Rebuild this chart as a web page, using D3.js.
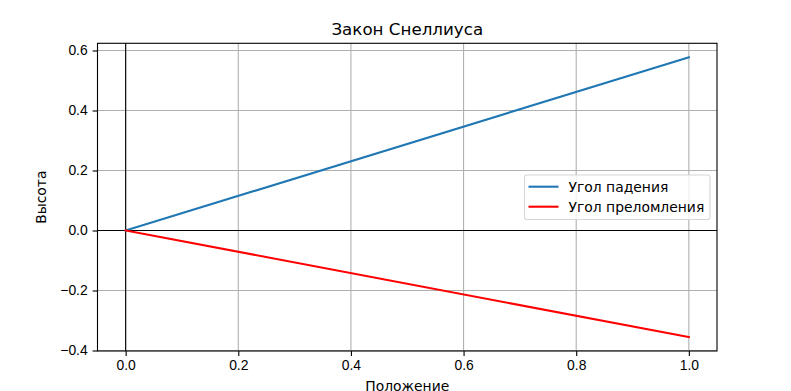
<!DOCTYPE html>
<html>
<head>
<meta charset="utf-8">
<script src="https://cdn.jsdelivr.net/npm/d3@7"></script>
<style>
  body { margin: 0; background: #fff; }
  svg { font-family: "DejaVu Sans", sans-serif; }
  .tick text { font-size: 13.9px; fill: #000; }
</style>
</head>
<body>
<svg id="chart" width="791" height="391"></svg>
<script>
// data
var position = [0, 1];
var incidence = [0, 0.5774];
var refraction = [0, -0.355];
var xTicks = [0, 0.2, 0.4, 0.6, 0.8, 1.0];
var yTicks = [-0.4, -0.2, 0, 0.2, 0.4, 0.6];
var seriesNames = ["Угол падения", "Угол преломления"];
var seriesColors = ["#1f77b4", "red"];

// plot area (window.top is reserved, so no "top" here)
var axLeft = 97.5, axRight = 717, axTop = 43.3, axBottom = 351;

var svg = d3.select("#chart");

var x = d3.scaleLinear().domain([-0.05, 1.05]).range([axLeft, axRight]);
var y = d3.scaleLinear().domain([-0.4016, 0.6240]).range([axBottom, axTop]);

// grid
svg.append("g")
    .selectAll("line")
    .data(xTicks)
  .enter().append("line")
    .attr("x1", function(d) { return x(d); })
    .attr("x2", function(d) { return x(d); })
    .attr("y1", axTop).attr("y2", axBottom)
    .attr("stroke", "#b0b0b0").attr("stroke-width", 1.1);

svg.append("g")
    .selectAll("line")
    .data(yTicks)
  .enter().append("line")
    .attr("y1", function(d) { return y(d); })
    .attr("y2", function(d) { return y(d); })
    .attr("x1", axLeft).attr("x2", axRight)
    .attr("stroke", "#b0b0b0").attr("stroke-width", 1.1);

// zero lines
svg.append("line")
    .attr("x1", axLeft).attr("x2", axRight)
    .attr("y1", y(0)).attr("y2", y(0))
    .attr("stroke", "#000").attr("stroke-width", 1.1);
svg.append("line")
    .attr("x1", x(0)).attr("x2", x(0))
    .attr("y1", axTop).attr("y2", axBottom)
    .attr("stroke", "#000").attr("stroke-width", 1.1);

// series
var line = d3.line()
    .x(function(d, i) { return x(position[i]); })
    .y(function(d) { return y(d); });

svg.selectAll("path.series")
    .data([incidence, refraction])
  .enter().append("path")
    .attr("class", "series")
    .attr("d", line)
    .attr("fill", "none")
    .attr("stroke", function(d, i) { return seriesColors[i]; })
    .attr("stroke-width", 2.1)
    .attr("stroke-linecap", "square");

// axes
var fmt = function(d) { return d3.format(".1f")(d).replace("-", "\u2212"); };

svg.append("g")
    .attr("transform", "translate(0," + axBottom + ")")
    .call(d3.axisBottom(x).tickValues(xTicks).tickFormat(fmt).tickSize(4.9).tickPadding(4.5))
    .call(function(g) { g.select(".domain").remove(); })
    .selectAll("line").attr("stroke-width", 1.1);

svg.append("g")
    .attr("transform", "translate(" + axLeft + ",0)")
    .call(d3.axisLeft(y).tickValues(yTicks).tickFormat(fmt).tickSize(4.9).tickPadding(4.9))
    .call(function(g) { g.select(".domain").remove(); })
    .selectAll("line").attr("stroke-width", 1.1);

// frame
svg.append("rect")
    .attr("x", axLeft).attr("y", axTop)
    .attr("width", axRight - axLeft).attr("height", axBottom - axTop)
    .attr("fill", "none").attr("stroke", "#000").attr("stroke-width", 1.1);

// title and labels
svg.append("text")
    .attr("x", (axLeft + axRight) / 2).attr("y", 35)
    .attr("text-anchor", "middle")
    .style("font-size", "16.7px")
    .text("Закон Снеллиуса");

svg.append("text")
    .attr("x", (axLeft + axRight) / 2).attr("y", 391)
    .attr("text-anchor", "middle")
    .style("font-size", "13.9px")
    .text("Положение");

svg.append("text")
    .attr("transform", "translate(46," + ((axTop + axBottom) / 2) + ") rotate(-90)")
    .attr("text-anchor", "middle")
    .style("font-size", "13.9px")
    .text("Высота");

// legend
var legend = svg.append("g");
legend.append("rect")
    .attr("x", 524.5).attr("y", 175)
    .attr("width", 185.5).attr("height", 44.5)
    .attr("rx", 2.8)
    .attr("fill", "#fff").attr("fill-opacity", 0.8)
    .attr("stroke", "#d6d6d6").attr("stroke-width", 1.1);

var rows = legend.selectAll("g.row")
    .data(seriesNames)
  .enter().append("g")
    .attr("class", "row")
    .attr("transform", function(d, i) { return "translate(0," + (186.7 + i * 20) + ")"; });

rows.append("line")
    .attr("x1", 528.5).attr("x2", 558.5)
    .attr("stroke", function(d, i) { return seriesColors[i]; })
    .attr("stroke-width", 2.1);

rows.append("text")
    .attr("x", 568.5).attr("dy", "0.35em")
    .style("font-size", "13.9px")
    .text(function(d) { return d; });
</script>
</body>
</html>
